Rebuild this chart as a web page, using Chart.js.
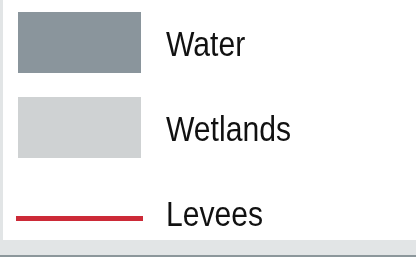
<!DOCTYPE html>
<html>
<head>
<meta charset="utf-8">
<script src="https://cdn.jsdelivr.net/npm/chart.js@4.4.0/dist/chart.umd.min.js"></script>
<style>
  html, body { margin: 0; padding: 0; background: #dde0e1; }
  #wrap { width: 416px; height: 257px; position: relative; }
</style>
</head>
<body>
<div id="wrap"><canvas id="legend-chart"></canvas></div>
<script>
// ── Legend data ───────────────────────────────────────
const legendLabels = ['Water', 'Wetlands', 'Levees'];
const legendColors = ['#8a959c', '#cfd2d3', '#cc2a37'];
const legendKinds = ['box', 'box', 'line'];

// map-panel backdrop: white card on grey map
const backdropPlugin = {
  id: 'backdrop',
  beforeDraw(chart) {
    const { ctx, width, height } = chart;
    ctx.save();
    ctx.fillStyle = '#e2e5e6';
    ctx.fillRect(0, 0, width, height);
    ctx.fillStyle = '#ffffff';
    ctx.fillRect(3, 0, width - 3, 240);
    ctx.fillStyle = '#8c979b';
    ctx.fillRect(0, 255, width, 2);
    ctx.restore();
  },
};

// ── Legend drawn from the arrays ──────────────────────
const mapLegendPlugin = {
  id: 'mapLegend',
  afterDraw(chart) {
    const { ctx } = chart;
    const rowH = 85;
    const top = 12;
    ctx.save();
    legendLabels.forEach((label, i) => {
      const y0 = top + i * rowH;
      ctx.fillStyle = legendColors[i];
      if (legendKinds[i] === 'box') {
        ctx.fillRect(18, y0, 123, 61);
      } else {
        ctx.fillRect(16, y0 + 34, 127, 5);
      }
      ctx.save();
      ctx.translate(166, y0 + 44);
      ctx.scale(0.86, 1);
      ctx.fillStyle = '#111111';
      ctx.font = "35px 'Liberation Sans', Arial, sans-serif";
      ctx.textBaseline = 'alphabetic';
      ctx.fillText(label, 0, 0);
      ctx.restore();
    });
    ctx.restore();
  },
};

new Chart(document.getElementById('legend-chart'), {
  type: 'bar',
  data: { labels: legendLabels, datasets: [] },
  options: {
    responsive: true,
    maintainAspectRatio: false,
    animation: false,
    plugins: { legend: { display: false }, tooltip: { enabled: false } },
    scales: { x: { display: false }, y: { display: false } },
  },
  plugins: [backdropPlugin, mapLegendPlugin],
});
</script>
</body>
</html>
